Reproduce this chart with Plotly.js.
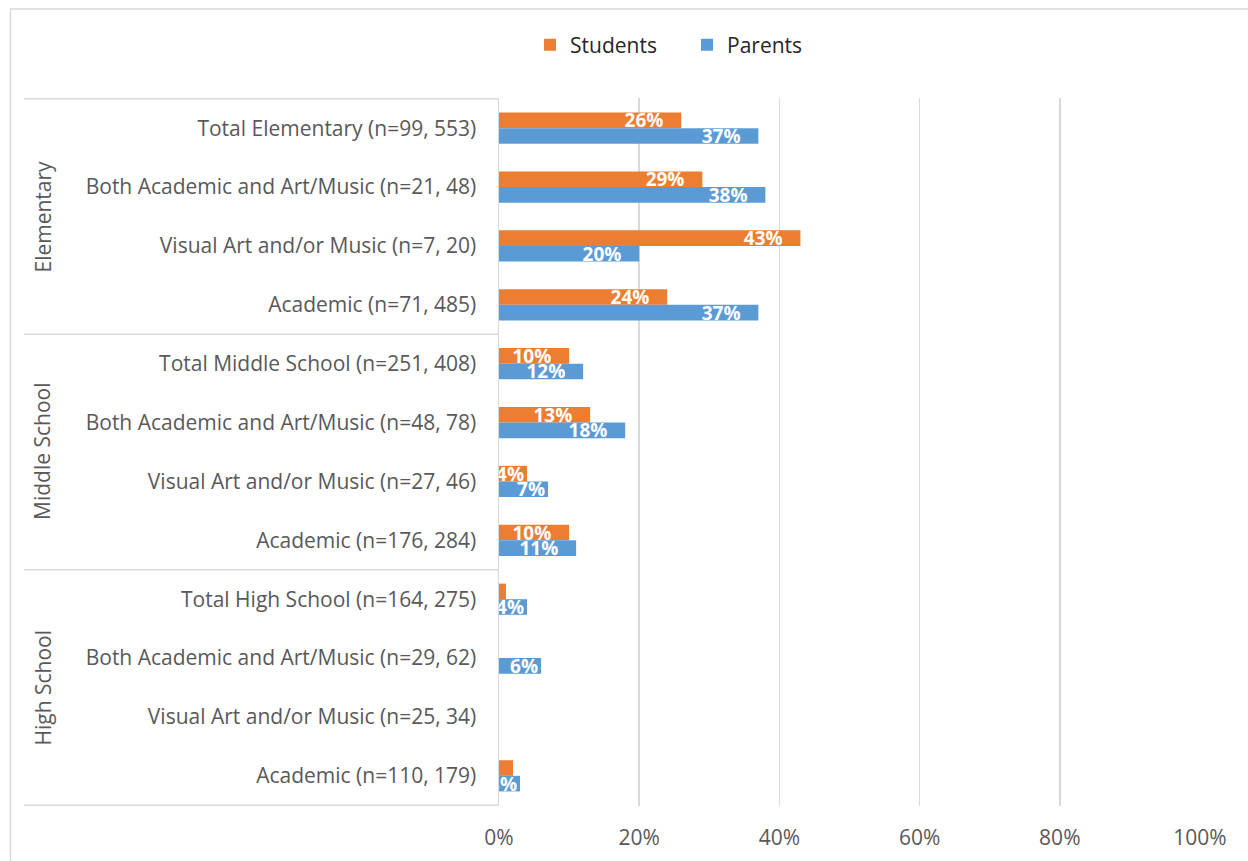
<!DOCTYPE html>
<html>
<head>
<meta charset="utf-8">
<script src="https://cdn.plot.ly/plotly-3.0.1.min.js"></script>
<style>
  html, body { margin: 0; padding: 0; background: #ffffff; }
  #chart { width: 1248px; height: 861px; }
</style>
</head>
<body>
<div id="chart"></div>
<script>
// ---- data ----
var categories = [
  "Total Elementary (n=99, 553)",
  "Both Academic and Art/Music (n=21, 48)",
  "Visual Art and/or Music (n=7, 20)",
  "Academic (n=71, 485)",
  "Total Middle School (n=251, 408)",
  "Both Academic and Art/Music (n=48, 78)",
  "Visual Art and/or Music (n=27, 46)",
  "Academic (n=176, 284)",
  "Total High School (n=164, 275)",
  "Both Academic and Art/Music (n=29, 62)",
  "Visual Art and/or Music (n=25, 34)",
  "Academic (n=110, 179)"
];
var groups = ["Elementary", "Middle School", "High School"];
var groupSizes = [4, 4, 4];
var students = [0.26, 0.29, 0.43, 0.24, 0.10, 0.13, 0.04, 0.10, 0.01, 0.00, 0.00, 0.02];
var parents  = [0.37, 0.38, 0.20, 0.37, 0.12, 0.18, 0.07, 0.11, 0.04, 0.06, 0.00, 0.03];
var xTickVals = [0, 0.2, 0.4, 0.6, 0.8, 1.0];
var xTickText = ["0%", "20%", "40%", "60%", "80%", "100%"];

var ORANGE = "#ED7D31", BLUE = "#5B9BD5";
var FONT = "'Open Sans', Lato, sans-serif";
var FS = 21;

function labels(vals) {
  return vals.map(function (v) {
    if (v < 0.03) return "";
    var t = Math.round(v * 100) + "%";
    // Excel-style inside-end padding for bars wide enough to hold it
    return v >= 0.1 ? t + "\u00a0\u00a0\u00a0" : t;
  });
}

var labelFont = { family: FONT, size: 19, color: "#ffffff", weight: "bold" };

var traces = [
  {
    type: "bar", orientation: "h", name: "Students",
    y: categories, x: students,
    marker: { color: ORANGE },
    text: labels(students), textposition: "inside", insidetextanchor: "end",
    constraintext: "none", textangle: 0, textfont: labelFont,
    hoverinfo: "skip", cliponaxis: false
  },
  {
    type: "bar", orientation: "h", name: "Parents",
    y: categories, x: parents,
    marker: { color: BLUE },
    text: labels(parents), textposition: "inside", insidetextanchor: "end",
    constraintext: "none", textangle: 0, textfont: labelFont,
    hoverinfo: "skip", cliponaxis: false
  }
];

// plot-area geometry in px (for paper-coordinate decorations)
var L = 499, R = 48, T = 98, B = 55, W = 1248, H = 861;
var pw = W - L - R, ph = H - T - B;
function px2x(px) { return (px - L) / pw; }
function px2y(py) { return (H - B - py) / ph; }

var shapes = [];
var annotations = [];
// chart-area border (top & left visible)
shapes.push({ type: "rect", xref: "paper", yref: "paper",
  x0: px2x(10.5), x1: px2x(1270), y0: px2y(9), y1: px2y(880),
  line: { color: "#d9d9d9", width: 1.5 }, fillcolor: "rgba(0,0,0,0)", layer: "below" });

// group separators and group labels
var start = 0;
var bounds = [-0.5];
for (var g = 0; g < groups.length; g++) {
  var end = start + groupSizes[g];
  bounds.push(end - 0.5);
  annotations.push({
    xref: "paper", yref: "y", x: px2x(42), y: (start + end - 1) / 2,
    text: groups[g], textangle: -90, showarrow: false,
    xanchor: "center", yanchor: "middle",
    font: { family: FONT, size: FS, color: "#595959" }
  });
  start = end;
}
bounds.forEach(function (b) {
  shapes.push({ type: "line", xref: "paper", yref: "y",
    x0: px2x(24), x1: 0, y0: b, y1: b,
    line: { color: "#d9d9d9", width: 1.5 } });
});

var layout = {
  width: W, height: H,
  margin: { l: L, r: R, t: T, b: B, pad: 0 },
  paper_bgcolor: "#ffffff", plot_bgcolor: "#ffffff",
  barmode: "group", bargap: 0.47, bargroupgap: 0,
  font: { family: FONT, size: FS, color: "#595959" },
  showlegend: true,
  legend: {
    orientation: "h", x: px2x(687), xanchor: "center", y: px2y(45), yanchor: "middle",
    font: { family: FONT, size: FS, color: "#262626" },
    traceorder: "normal", entrywidth: 112, itemwidth: 30
  },
  xaxis: {
    range: [0, 1], tickvals: xTickVals, ticktext: xTickText,
    showgrid: true, gridcolor: "#d9d9d9", gridwidth: 1.5,
    zeroline: false, showline: false, ticks: "",
    ticklabelstandoff: 17, fixedrange: true,
    tickfont: { family: FONT, size: FS, color: "#595959" }
  },
  yaxis: {
    type: "category", autorange: "reversed",
    showgrid: false, zeroline: false,
    showline: true, linecolor: "#d9d9d9", linewidth: 1.5,
    ticks: "", ticklabelstandoff: 17, fixedrange: true,
    tickfont: { family: FONT, size: FS, color: "#595959" }
  },
  shapes: shapes,
  annotations: annotations
};

Plotly.newPlot("chart", traces, layout, { displayModeBar: false, staticPlot: true });
</script>
</body>
</html>
